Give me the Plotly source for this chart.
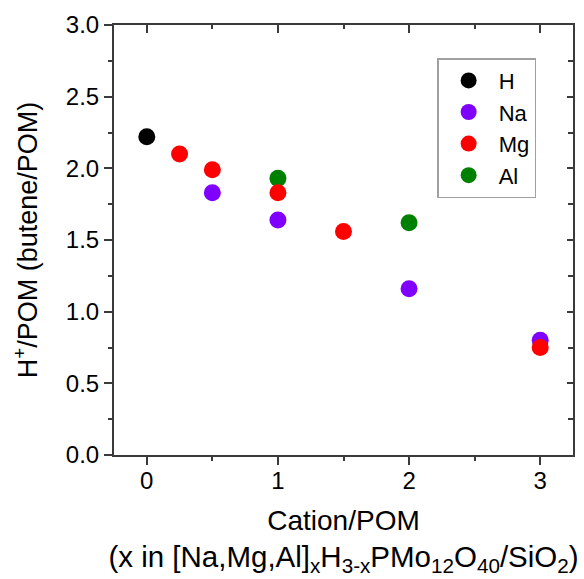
import plotly.graph_objects as go

# Cation loading (cations per POM) and acid-site density (butene/POM)
h_x = [0]
h_y = [2.22]

na_x = [0.5, 1, 2, 3]
na_y = [1.83, 1.64, 1.16, 0.80]

mg_x = [0.25, 0.5, 1, 1.5, 3]
mg_y = [2.10, 1.99, 1.83, 1.56, 0.75]

al_x = [1, 2]
al_y = [1.93, 1.62]

x_ticks = [0, 1, 2, 3]
y_ticks = [0.0, 0.5, 1.0, 1.5, 2.0, 2.5, 3.0]

FONT = "Liberation Sans, Arial, sans-serif"
AXIS_COLOR = "#3a3a3a"

series = [
    # (name, x, y, colour, legend rank); drawn in list order
    ("H", h_x, h_y, "#000000", 1),
    ("Na", na_x, na_y, "#8000ff", 2),
    ("Al", al_x, al_y, "#008000", 4),
    ("Mg", mg_x, mg_y, "#ff0000", 3),
]

fig = go.Figure()
for name, xs, ys, color, rank in series:
    fig.add_trace(go.Scatter(
        x=xs, y=ys, mode="markers", name=name, legendrank=rank,
        marker=dict(size=17, color=color, line=dict(width=0)),
    ))

# empty trace so the mirrored top/right frame axes get drawn
fig.add_trace(go.Scatter(x=[], y=[], xaxis="x2", yaxis="y2",
                         showlegend=False, hoverinfo="skip"))

x_range = [-0.25, 3.25]
y_range = [0, 3.0]

common = dict(showgrid=False, zeroline=False, showline=True,
              linecolor=AXIS_COLOR, linewidth=2, tickcolor=AXIS_COLOR,
              tickwidth=2)

x_title = ('Cation/POM<br><span style="font-size:29.5px">'
           "(x in [Na,Mg,Al]<sub>x</sub>H<sub>3-x</sub>PMo<sub>12</sub>"
           "O<sub>40</sub>/SiO<sub>2</sub>)</span>")

fig.update_layout(
    width=584, height=579,
    margin=dict(l=114, r=11, t=25, b=124),
    paper_bgcolor="white", plot_bgcolor="white",
    font=dict(family=FONT, size=24, color="#000000"),
    showlegend=True,
    legend=dict(
        x=0.704, y=0.923, xanchor="left", yanchor="top",
        bordercolor="#a0a0a0", borderwidth=1.5, bgcolor="white",
        font=dict(size=22), itemwidth=50, tracegroupgap=0,
    ),
    xaxis=dict(
        range=x_range, tickmode="array", tickvals=x_ticks,
        ticktext=[str(v) for v in x_ticks],
        ticks="outside", ticklen=8, ticklabelstandoff=-5,
        minor=dict(ticks="outside", ticklen=4, dtick=0.5, tick0=0,
                   tickcolor=AXIS_COLOR, tickwidth=2),
        title=dict(text=x_title, font=dict(size=28), standoff=18),
        **common,
    ),
    yaxis=dict(
        range=y_range, tickmode="array", tickvals=y_ticks,
        ticktext=[f"{v:.1f}" for v in y_ticks],
        ticks="outside", ticklen=8,
        minor=dict(ticks="outside", ticklen=4, dtick=0.25, tick0=0,
                   tickcolor=AXIS_COLOR, tickwidth=2),
        title=dict(text="H<sup>+</sup>/POM (butene/POM)",
                   font=dict(size=27), standoff=20),
        **common,
    ),
    xaxis2=dict(
        overlaying="x", side="top", anchor="y", range=x_range,
        tickmode="array", tickvals=x_ticks, showticklabels=False,
        ticks="inside", ticklen=8,
        minor=dict(ticks="inside", ticklen=4, dtick=0.5, tick0=0,
                   tickcolor=AXIS_COLOR, tickwidth=2),
        **common,
    ),
    yaxis2=dict(
        overlaying="y", side="right", anchor="x", range=y_range,
        tickmode="array", tickvals=y_ticks, showticklabels=False,
        ticks="inside", ticklen=6,
        minor=dict(ticks="inside", ticklen=5, dtick=0.25, tick0=0,
                   tickcolor=AXIS_COLOR, tickwidth=2),
        **common,
    ),
)

fig.write_html("out.html")
